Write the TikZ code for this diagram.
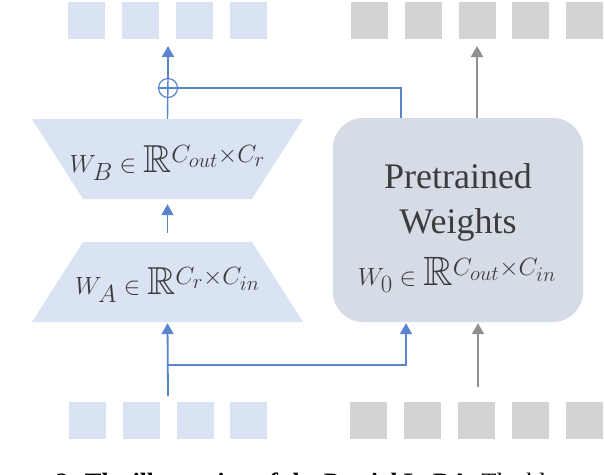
\documentclass[tikz,border=0pt]{standalone}
\usepackage{amssymb}
\usepackage{fontspec}
\setmainfont{Liberation Serif}
\usetikzlibrary{arrows.meta}
\definecolor{lblue}{HTML}{DAE3F3}
\definecolor{lgray}{HTML}{D3D3D3}
\definecolor{boxgray}{HTML}{D6DCE5}
\definecolor{ablue}{HTML}{5B84CF}
\definecolor{agray}{HTML}{8F8F8F}
\definecolor{txt}{HTML}{3C3C3C}
\begin{document}
\begin{tikzpicture}[x=1pt,y=-1pt,
  tok/.style={minimum width=37pt,minimum height=37pt,inner sep=0pt,anchor=north west},
  btok/.style={tok,fill=lblue},
  gtok/.style={tok,fill=lgray},
  trapfill/.style={fill=lblue},
  frame/.style={minimum width=169pt,minimum height=80pt,inner sep=0pt},
  mtext/.style={text=txt,anchor=base,font=\fontsize{39}{44}\selectfont},
  ptext/.style={text=txt,anchor=base,font=\fontsize{36}{40}\selectfont},
  barrow/.style={draw=ablue,line width=1.8pt,-{Triangle[width=12pt,length=11pt]}},
  bline/.style={draw=ablue,line width=1.4pt},
  garrow/.style={draw=agray,line width=1.8pt,-{Triangle[width=12pt,length=11pt]}},
  capt/.style={inner sep=0pt,font=\fontsize{25}{30}\selectfont}
]
\useasboundingbox (0,0) rectangle (604,474);
% top tokens
\node[btok] (tb1) at (68,2) {};
\node[btok] (tb2) at (122,2) {};
\node[btok] (tb3) at (176,2) {};
\node[btok] (tb4) at (230,2) {};
\node[gtok] (tg1) at (351,2) {};
\node[gtok] (tg2) at (405,2) {};
\node[gtok] (tg3) at (459,2) {};
\node[gtok] (tg4) at (512,2) {};
\node[gtok] (tg5) at (566,2) {};
% bottom tokens
\node[btok] (bb1) at (69,402) {};
\node[btok] (bb2) at (123,402) {};
\node[btok] (bb3) at (177,402) {};
\node[btok] (bb4) at (230,402) {};
\node[gtok] (bg1) at (350,402) {};
\node[gtok] (bg2) at (404,402) {};
\node[gtok] (bg3) at (458,402) {};
\node[gtok] (bg4) at (512,402) {};
\node[gtok] (bg5) at (566,402) {};
% trapezoids
\fill[trapfill] (32,119) -- (303,119) -- (252,199) -- (83,199) -- cycle;
\fill[trapfill] (83,242) -- (252,242) -- (303,322) -- (32,322) -- cycle;
\node[frame] (WB) at (167.5,159) {};
\node[frame] (WA) at (167.5,282) {};
\node[mtext] (WBt) at (167.5,172) {$W_B \in \mathbb{R}^{C_{out}\times C_r}$};
\node[mtext] (WAt) at (167.5,294) {$W_A \in \mathbb{R}^{C_r\times C_{in}}$};
% pretrained box
\node[fill=boxgray,rounded corners=30pt,minimum width=250pt,minimum height=204pt,inner sep=0pt] (PW) at (458,220) {};
\node[ptext] (pt1) at (458,188) {Pretrained};
\node[ptext] (pt2) at (458,233) {Weights};
\node[mtext,font=\fontsize{41}{46}\selectfont] (W0t) at (457,285) {$W_0 \in \mathbb{R}^{C_{out}\times C_{in}}$};
% plus
\node[circle,draw=ablue,line width=1.2pt,minimum size=19pt,inner sep=0pt] (plus) at (168,88) {};
\draw[ablue,line width=1.2pt] (plus.west) -- (plus.east);
% coordinates
\coordinate (outB) at (168,46);
\coordinate (outG) at (477,46);
\coordinate (inB) at (168,396);
\coordinate (br) at (168,365);
\coordinate (inG) at (478,387);
% connectors
\draw[bline] (WB.north) -- (plus.north);
\draw[barrow] (plus.north) -- (outB);
\draw[bline] (plus.east) -| ([xshift=-57pt]PW.north);
\draw[garrow] ([xshift=19pt]PW.north) -- (outG);
\draw[barrow] ([yshift=9pt]WA.north) -- ([yshift=-5pt]WB.south);
\draw[barrow,shorten >=1pt] (inB) -- (WA.south);
\draw[barrow,shorten >=1pt] (br) -| ([xshift=-52pt]PW.south);
\draw[garrow,shorten >=1pt] (inG) -- (inG |- PW.south);
% caption (cut off by the page edges, as in the reference)
\node[capt,anchor=base west] (cap) at (-21,490) {\textbf{Figure 2: The illustration of the Partial LoRA.} The blue and};
\end{tikzpicture}
\end{document}
